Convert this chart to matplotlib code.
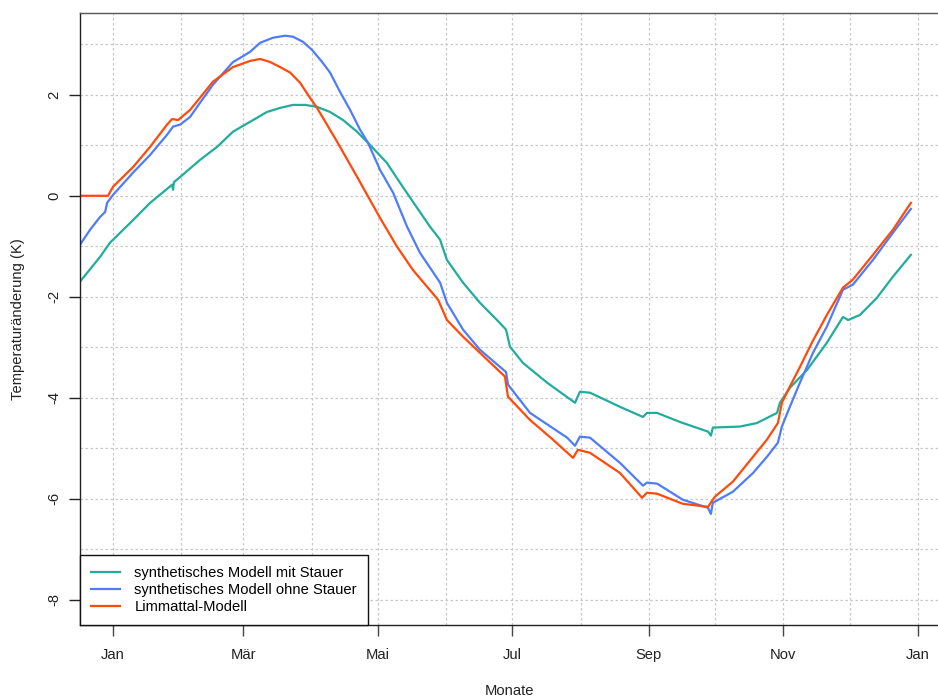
import matplotlib
matplotlib.use("Agg")
import matplotlib.pyplot as plt

plt.rcParams['font.family'] = ['Liberation Sans', 'DejaVu Sans']

# Tage seit 1. Januar und Temperaturänderung (K) je Modell
tage_mit_stauer = [-15.0, -5.9, -1.4, 9.1, 16.8, 26.8, 27.2, 27.6, 31.7, 39.4, 47.2, 54.4, 63.5,
                   69.8, 75.7, 81.6, 87.1, 92.5, 98.4, 104.3, 110.6, 115.6, 124.2, 130.1, 136.0,
                   143.7, 148.3, 151.4, 158.7, 166.4, 174.1, 178.2, 180.0, 185.9, 196.8, 209.5,
                   211.7, 216.3, 229.9, 240.3, 242.1, 246.7, 257.1, 269.8, 271.1, 272.0, 284.3,
                   292.0, 301.1, 302.4, 307.0, 314.7, 323.7, 331.0, 333.3, 338.7, 346.4, 353.7,
                   361.8]
werte_mit_stauer = [-1.70, -1.21, -0.93, -0.48, -0.14, 0.22, 0.12, 0.27, 0.42, 0.71, 0.97, 1.27, 1.50,
                    1.66, 1.74, 1.80, 1.80, 1.76, 1.66, 1.50, 1.27, 1.05, 0.65, 0.26, -0.12,
                    -0.61, -0.87, -1.27, -1.72, -2.12, -2.46, -2.65, -2.99, -3.31, -3.70, -4.10,
                    -3.88, -3.90, -4.18, -4.38, -4.30, -4.30, -4.48, -4.67, -4.75, -4.59, -4.57,
                    -4.50, -4.30, -4.10, -3.80, -3.45, -2.91, -2.40, -2.46, -2.36, -2.02, -1.60,
                    -1.17]

tage_ohne_stauer = [-15.0, -10.4, -5.9, -3.6, -2.7, 0.0, 9.1, 16.8, 24.5, 27.2, 30.4, 34.9, 39.4,
                    45.3, 54.4, 57.6, 62.1, 66.7, 72.5, 78.0, 81.6, 86.1, 90.2, 94.8, 98.4,
                    102.9, 107.5, 112.0, 115.6, 121.1, 127.0, 133.3, 139.2, 148.3, 151.4, 158.7,
                    166.4, 178.2, 179.1, 189.1, 205.9, 209.5, 211.7, 216.3, 229.9, 240.3, 242.1,
                    246.7, 258.4, 269.8, 271.1, 272.0, 281.1, 290.2, 296.5, 301.5, 303.3, 306.9,
                    311.5, 317.4, 323.7, 331.0, 335.5, 344.6, 353.7, 361.8]
werte_ohne_stauer = [-0.97, -0.67, -0.42, -0.32, -0.14, 0.02, 0.46, 0.81, 1.21, 1.37, 1.41, 1.56, 1.84,
                     2.20, 2.65, 2.73, 2.85, 3.03, 3.13, 3.17, 3.15, 3.05, 2.89, 2.65, 2.44,
                     2.06, 1.70, 1.31, 1.05, 0.51, 0.06, -0.61, -1.13, -1.72, -2.12, -2.65,
                     -3.05, -3.49, -3.74, -4.30, -4.79, -4.95, -4.77, -4.79, -5.29, -5.74, -5.68,
                     -5.70, -6.02, -6.18, -6.30, -6.08, -5.86, -5.49, -5.17, -4.89, -4.57, -4.18,
                     -3.70, -3.11, -2.59, -1.86, -1.76, -1.27, -0.73, -0.26]

tage_limmattal = [-15.0, -2.3, 0.0, 9.1, 16.8, 24.5, 26.8, 29.5, 34.9, 39.4, 45.3, 54.4, 62.1,
                  66.7, 71.2, 75.7, 80.3, 84.8, 88.4, 92.5, 97.0, 101.6, 110.6, 121.1, 128.8,
                  136.0, 147.4, 151.4, 158.7, 166.4, 177.7, 179.1, 189.1, 199.5, 208.6, 210.8,
                  216.3, 229.9, 239.9, 242.1, 246.7, 258.4, 269.8, 272.9, 281.1, 290.2, 296.5,
                  301.5, 303.3, 306.9, 311.5, 316.9, 323.7, 331.0, 335.5, 344.6, 353.7, 361.8]
werte_limmattal = [0.0, 0.0, 0.18, 0.57, 0.97, 1.41, 1.52, 1.50, 1.70, 1.94, 2.26, 2.55, 2.67,
                   2.71, 2.65, 2.55, 2.44, 2.24, 2.00, 1.74, 1.41, 1.07, 0.38, -0.44, -1.01,
                   -1.47, -2.06, -2.46, -2.79, -3.11, -3.58, -3.98, -4.44, -4.83, -5.19, -5.03,
                   -5.09, -5.49, -5.98, -5.88, -5.90, -6.10, -6.16, -5.96, -5.66, -5.17, -4.83,
                   -4.50, -4.10, -3.78, -3.39, -2.91, -2.36, -1.82, -1.66, -1.17, -0.67, -0.14]

monatsanfaenge = [0, 31, 59, 90, 120, 151, 181, 212, 243, 273, 304, 334, 365]
tick_tage = [0, 59, 120, 181, 243, 304, 365]
tick_monate = ["Jan", "Mär", "Mai", "Jul", "Sep", "Nov", "Jan"]
y_ticks = [-8, -6, -4, -2, 0, 2]

farbe_mit = "#20AD9C"
farbe_ohne = "#4E7CFA"
farbe_limmat = "#FF4A0A"

fig = plt.figure(figsize=(9.38, 6.97), dpi=100)
ax = fig.add_axes([80 / 938, 72 / 697, 1 - 80 / 938, (625 - 13) / 697])

# gepunktetes Raster: Monatsanfänge und ganze Kelvin
for t in monatsanfaenge:
    ax.axvline(t, color="#c8c8c8", lw=0.9, ls=(0, (2, 2)), zorder=0)
for k in range(-8, 4):
    ax.axhline(k, color="#c8c8c8", lw=0.9, ls=(0, (2, 2)), zorder=0)

ax.plot(tage_mit_stauer, werte_mit_stauer, color=farbe_mit, lw=1.6,
        label="synthetisches Modell mit Stauer")
ax.plot(tage_ohne_stauer, werte_ohne_stauer, color=farbe_ohne, lw=1.6,
        label="synthetisches Modell ohne Stauer")
ax.plot(tage_limmattal, werte_limmattal, color=farbe_limmat, lw=1.6,
        label="Limmattal-Modell")

ax.set_xlim(-15.0, 374.1)
ax.set_ylim(-8.5, 3.62)

ax.set_xticks(tick_tage)
ax.set_xticklabels(tick_monate)
ax.set_yticks(y_ticks)
ax.set_yticklabels([str(v) for v in y_ticks], rotation=90, va="center")

fs = 10.6
ax.tick_params(axis="x", length=8, width=1, color="#444444", labelsize=fs, pad=8.5,
               labelcolor="#222222")
ax.tick_params(axis="y", length=8, width=1, color="#222222", labelsize=fs, pad=5.5,
               labelcolor="#222222")

ax.spines["right"].set_visible(False)
ax.spines["top"].set_color("#555555")
ax.spines["left"].set_color("#222222")
ax.spines["bottom"].set_color("#222222")
for s in ax.spines.values():
    s.set_linewidth(1.0)

ax.set_xlabel("Monate", fontsize=fs, color="#222222", labelpad=16)
ax.set_ylabel("Temperaturänderung (K)", fontsize=fs, color="#222222", labelpad=16)

leg = ax.legend(loc="lower left", borderaxespad=0, fontsize=fs, frameon=True,
                fancybox=False, framealpha=1, edgecolor="#111111",
                handlelength=1.95, handletextpad=1.0, borderpad=0.75,
                labelspacing=0.2)
leg.get_frame().set_linewidth(1.0)

fig.savefig("out.png", dpi=100, facecolor="white")
